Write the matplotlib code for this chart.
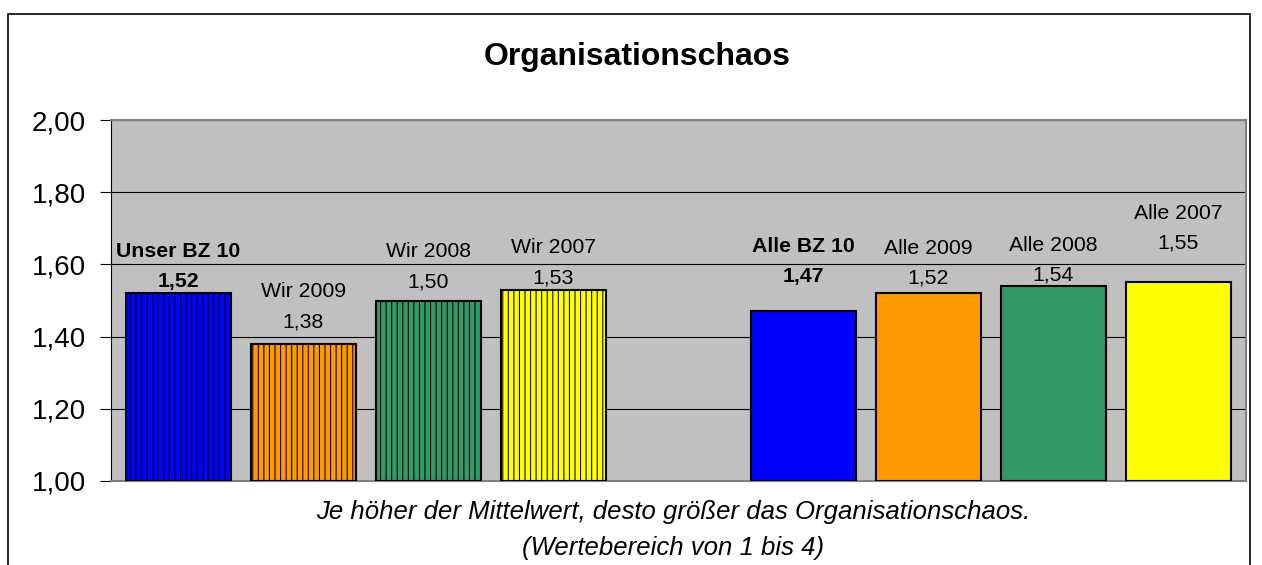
import numpy as np
import matplotlib
matplotlib.use("Agg")
import matplotlib.pyplot as plt
from matplotlib.patches import Rectangle
from matplotlib.ticker import FuncFormatter, MultipleLocator

plt.rcParams['font.family'] = ['Liberation Sans', 'DejaVu Sans']
plt.rcParams['hatch.linewidth'] = 0.75

# Daten (leere Kategorie = Lücke zwischen den Gruppen)
kategorien = ["Unser BZ 10", "Wir 2009", "Wir 2008", "Wir 2007", "",
              "Alle BZ 10", "Alle 2009", "Alle 2008", "Alle 2007"]
werte = [1.52, 1.38, 1.50, 1.53, np.nan, 1.47, 1.52, 1.54, 1.55]
fett = [True, False, False, False, False, True, False, False, False]

farben = ["#0000FF", "#FF9900", "#339966", "#FFFF00", "none",
          "#0000FF", "#FF9900", "#339966", "#FFFF00"]
schraffur = ["|||", "|||", "|||", "|||", None, None, None, None, None]
# Beschriftungs-Abstand über dem Balken (Pixel), wie im Original verschoben
abstand = [12, 22, 19, 12, 0, 35, 15, 11, 39]

fig = plt.figure(figsize=(12.62, 5.65), dpi=100)
ax = fig.add_axes([111 / 1262, 84 / 565, 1135 / 1262, 361 / 565])
ax.set_facecolor("#C0C0C0")

x = np.arange(len(kategorien))
for i in x:
    if np.isnan(werte[i]):
        continue
    ax.bar(i, werte[i] - 1.0, bottom=1.0, width=0.84, color=farben[i],
           edgecolor="black", linewidth=1.5, hatch=schraffur[i], zorder=3)
    w = "bold" if fett[i] else "normal"
    ax.annotate(f"{werte[i]:.2f}".replace(".", ","), xy=(i, werte[i]),
                xytext=(0, abstand[i]), textcoords="offset pixels",
                ha="center", va="center", fontsize=15.3, fontweight=w,
                zorder=5)
    ax.annotate(kategorien[i], xy=(i, werte[i]),
                xytext=(0, abstand[i] + 30), textcoords="offset pixels",
                ha="center", va="center", fontsize=15.3, fontweight=w,
                zorder=5)

ax.set_xlim(-0.54, 8.54)
ax.set_ylim(1.0, 2.0)
ax.yaxis.set_major_locator(MultipleLocator(0.2))
ax.yaxis.set_major_formatter(FuncFormatter(lambda v, p: f"{v:.2f}".replace(".", ",")))
ax.grid(axis="y", color="black", linewidth=0.8, zorder=1)
ax.set_xticks([])
ax.tick_params(axis="y", labelsize=20, length=8, width=0.8, pad=10, direction="out")

for s in ["top", "right", "bottom"]:
    ax.spines[s].set_color("#808080")
    ax.spines[s].set_linewidth(1.5)
ax.spines["left"].set_color("black")
ax.spines["left"].set_linewidth(0.8)

fig.text(637 / 1262, 1 - 57 / 565, "Organisationschaos", ha="center",
         va="center", fontsize=23, fontweight="bold")
fig.text(673 / 1262, 1 - 512 / 565,
         "Je höher der Mittelwert, desto größer das Organisationschaos.",
         ha="center", va="center", fontsize=18.5, style="italic")
fig.text(673 / 1262, 1 - 548 / 565, "(Wertebereich von 1 bis 4)",
         ha="center", va="center", fontsize=18.5, style="italic")

# Rahmen um das Diagramm
fig.patches.append(Rectangle((8 / 1262, -0.05), 1242 / 1262, 1.05 - 14 / 565,
                             transform=fig.transFigure, fill=False,
                             edgecolor="black", linewidth=1.2))

fig.savefig("out.png", dpi=100)
